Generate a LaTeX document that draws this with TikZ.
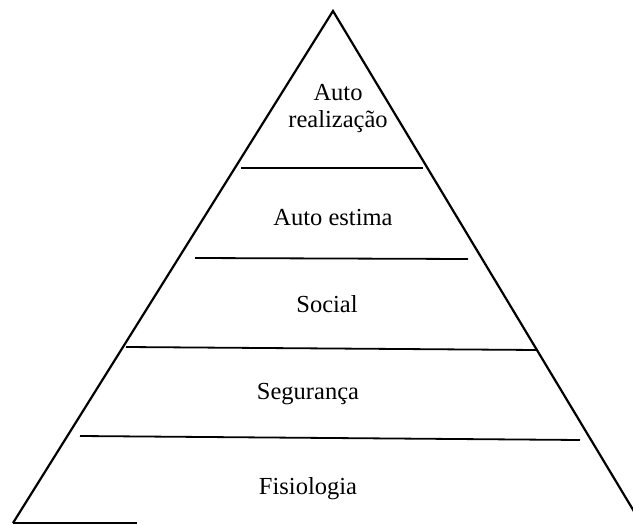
\documentclass[tikz,border=0pt]{standalone}
\usepackage{fontspec}
\setmainfont{Liberation Serif}
\begin{document}
\begin{tikzpicture}[x=1pt,y=-1pt,
  side/.style={line width=2.2pt,line join=miter},
  tier/.style={line width=1.8pt},
  lbl/.style={font=\fontsize{24.5}{29}\selectfont,align=center,inner sep=0pt}]
\useasboundingbox (0,0) rectangle (633,525);
\clip (0,0) rectangle (633,525);
\coordinate (apex) at (333,11);
\coordinate (bl) at (13,523);
\coordinate (br) at (641,523);
\coordinate (b2) at (137,523);
\draw[side] (bl) -- (apex) -- (br);
\draw[line width=1.6pt] (bl) -- (b2);
\coordinate (l1a) at (241,168); \coordinate (l1b) at (423,168);
\coordinate (l2a) at (195,258); \coordinate (l2b) at (468,259);
\coordinate (l3a) at (126,347); \coordinate (l3b) at (537,350);
\coordinate (l4a) at (80,436);  \coordinate (l4b) at (580,440);
\draw[tier] (l1a) -- (l1b);
\draw[tier] (l2a) -- (l2b);
\draw[tier] (l3a) -- (l3b);
\draw[tier] (l4a) -- (l4b);
\node[lbl] (t1) at (338,109) {Auto\\[-2pt]realização};
\node[lbl] (t2) at (333,218) {Auto estima};
\node[lbl] (t3) at (327,304) {Social};
\node[lbl] (t4) at (308,394) {Segurança};
\node[lbl] (t5) at (308,489) {Fisiologia};
\end{tikzpicture}
\end{document}
